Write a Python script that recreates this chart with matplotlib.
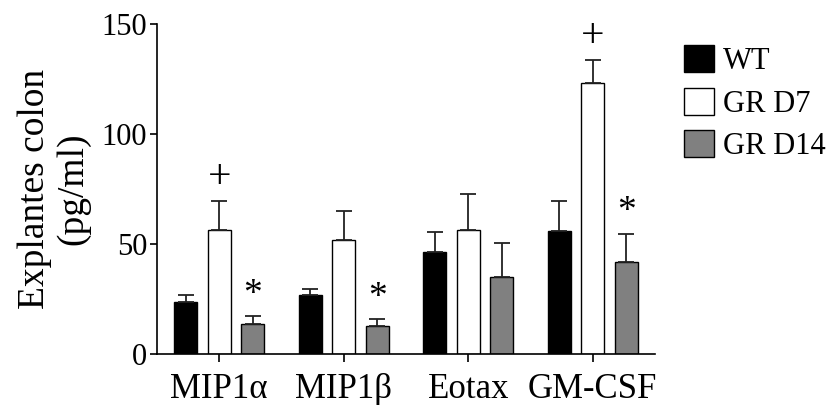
import numpy as np
import matplotlib.pyplot as plt

cytokines = ['MIP1\u03b1', 'MIP1\u03b2', 'Eotax', 'GM-CSF']
groups = ['WT', 'GR D7', 'GR D14']
wt = [23.6, 26.8, 46.4, 56.0]
wt_err = [3.2, 2.8, 9.2, 13.7]
d7 = [56.4, 51.8, 56.4, 123.3]
d7_err = [13.1, 13.0, 16.5, 10.3]
d14 = [13.6, 12.6, 35.0, 41.8]
d14_err = [3.7, 3.4, 15.6, 12.9]
# significance marks: (cytokine index, group index, symbol)
marks = [(0, 1, '+'), (0, 2, '*'), (1, 2, '*'), (3, 1, '+'), (3, 2, '*')]

colors = ['black', 'white', '#808080']

plt.rcParams['font.family'] = ['Liberation Serif', 'DejaVu Serif']

fig = plt.figure(figsize=(8.28, 4.05), dpi=100)
ax = fig.add_axes([0.1896, 0.126, 0.6014, 0.815])

x = np.arange(len(cytokines))
offset = 0.27
width = 0.185
means = [wt, d7, d14]
errs = [wt_err, d7_err, d14_err]
for i, (m, e) in enumerate(zip(means, errs)):
    ax.bar(x + (i - 1) * offset, m, width, color=colors[i], edgecolor='black',
           linewidth=1.0, label=groups[i],
           yerr=[np.zeros(len(e)), e], capsize=5.5,
           error_kw=dict(elinewidth=1.3, capthick=1.3, ecolor='#222222'))

for ci, gi, sym in marks:
    top = means[gi][ci] + errs[gi][ci]
    ax.annotate(sym, (x[ci] + (gi - 1) * offset, top), xytext=(0, 3),
                textcoords='offset points', ha='center', va='bottom',
                fontsize=30 if sym == '+' else 27)

ax.set_xlim(-0.5, 3.5)
ax.set_ylim(0, 150)
ax.set_yticks([0, 50, 100, 150])
ax.set_xticks(x)
ax.set_xticklabels(cytokines, fontsize=25)
ax.tick_params(axis='y', labelsize=22, length=5, width=1.2, pad=2)
ax.tick_params(axis='x', length=6, width=1.2, pad=8)
for s in ['top', 'right']:
    ax.spines[s].set_visible(False)
for s in ['left', 'bottom']:
    ax.spines[s].set_linewidth(1.2)
ax.set_ylabel('Explantes colon\n(pg/ml)', fontsize=27, linespacing=1.15, labelpad=8)

ax.legend(loc='upper left', bbox_to_anchor=(1.058, 0.935), frameon=False,
          fontsize=22, handlelength=0.98, handleheight=0.98, handletextpad=0.3,
          labelspacing=0.38, borderaxespad=0, borderpad=0)

fig.savefig('out.png', dpi=100)
